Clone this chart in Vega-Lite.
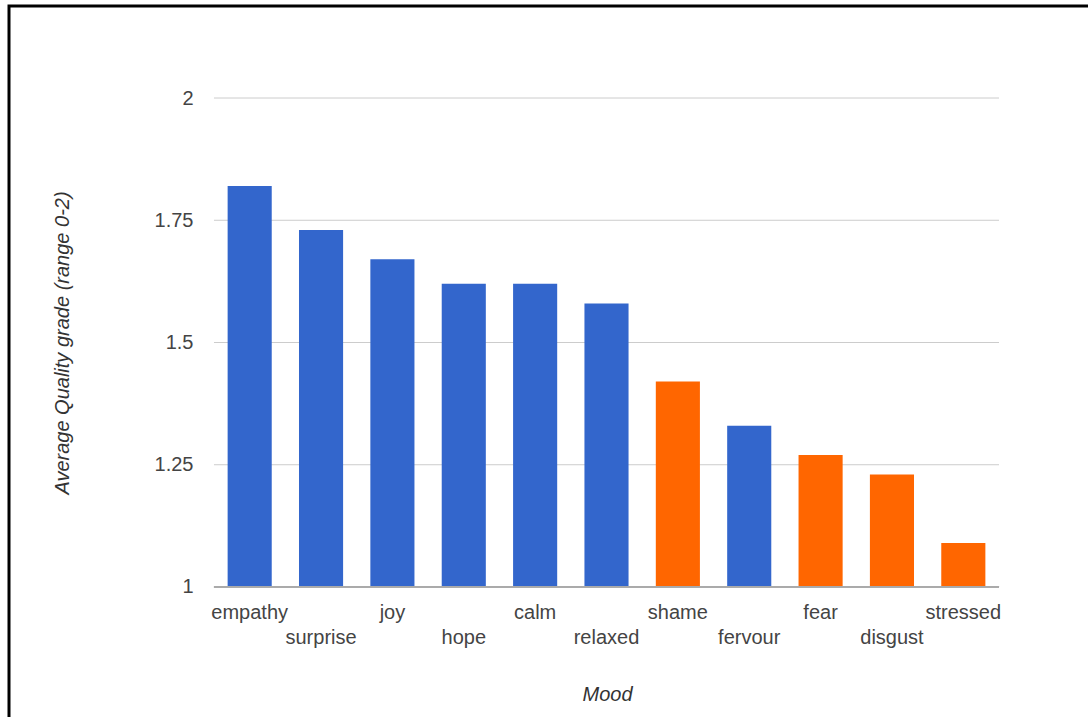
{
  "$schema": "https://vega.github.io/schema/vega-lite/v6.json",
  "width": 1079,
  "height": 711,
  "autosize": {"type": "none"},
  "padding": {"left": 9, "top": 6, "right": 0, "bottom": 0},
  "background": "#ffffff",
  "view": {
    "fill": "#ffffff",
    "stroke": "#000000",
    "strokeWidth": 3,
    "strokeCap": "square",
    "strokeDash": [1079, 1790, 711, 0]
  },
  "config": {
    "font": "Liberation Sans",
    "axis": {
      "labelFont": "Liberation Sans",
      "titleFont": "Liberation Sans",
      "labelFontSize": 20,
      "titleFontSize": 20,
      "labelColor": "#444444",
      "titleColor": "#333333",
      "titleFontStyle": "italic",
      "titleFontWeight": "normal",
      "domain": false,
      "ticks": false,
      "tickSize": 0,
      "grid": false
    }
  },
  "data": {
    "values": [
      {"mood": "empathy", "grade": 1.82, "valence": "positive"},
      {"mood": "surprise", "grade": 1.73, "valence": "positive"},
      {"mood": "joy", "grade": 1.67, "valence": "positive"},
      {"mood": "hope", "grade": 1.62, "valence": "positive"},
      {"mood": "calm", "grade": 1.62, "valence": "positive"},
      {"mood": "relaxed", "grade": 1.58, "valence": "positive"},
      {"mood": "shame", "grade": 1.42, "valence": "negative"},
      {"mood": "fervour", "grade": 1.33, "valence": "positive"},
      {"mood": "fear", "grade": 1.27, "valence": "negative"},
      {"mood": "disgust", "grade": 1.23, "valence": "negative"},
      {"mood": "stressed", "grade": 1.09, "valence": "negative"}
    ]
  },
  "layer": [
    {
      "data": {"values": [{"level": 1.25}, {"level": 1.5}, {"level": 1.75}, {"level": 2}]},
      "mark": {"type": "rule", "color": "#cccccc", "strokeWidth": 1, "xOffset": -35.7, "x2Offset": 35.7},
      "encoding": {
        "y": {
          "field": "level",
          "type": "quantitative",
          "scale": {"domain": [0.73415, 2.18814], "nice": false, "zero": false},
          "axis": {
            "orient": "left",
            "offset": -184,
            "values": [1, 1.25, 1.5, 1.75, 2],
            "labelExpr": "'' + datum.value",
            "labelPadding": 0,
            "labelAlign": "right",
            "labelBaseline": "middle",
            "title": "Average Quality grade (range 0-2)",
            "titleAngle": -90,
            "titleX": -124.5,
            "titleY": 336.5,
            "titleAlign": "center",
            "titleBaseline": "alphabetic"
          }
        },
        "x": {"datum": "empathy", "type": "nominal"},
        "x2": {"datum": "stressed"}
      }
    },
    {
      "mark": {"type": "bar"},
      "encoding": {
        "x": {
          "field": "mood",
          "type": "nominal",
          "sort": null,
          "scale": {
            "domain": ["empathy", "surprise", "joy", "hope", "calm", "relaxed", "shame", "fervour", "fear", "disgust", "stressed"],
            "range": [205, 990],
            "paddingInner": 0.382,
            "paddingOuter": 0.191
          },
          "axis": {
            "orient": "bottom",
            "offset": -130,
            "labelAngle": 0,
            "labelBaseline": "alphabetic",
            "labelAlign": "center",
            "labelPadding": {
              "condition": {"test": "indexof(['surprise','hope','relaxed','fervour','disgust'], datum.value) >= 0", "value": 56},
              "value": 31
            },
            "title": "Mood",
            "titleX": 598,
            "titleY": 113,
            "titleAlign": "center",
            "titleBaseline": "alphabetic"
          }
        },
        "y": {
          "field": "grade",
          "type": "quantitative",
          "scale": {"domain": [0.73415, 2.18814], "nice": false, "zero": false},
          "axis": {
            "orient": "left",
            "offset": -184,
            "values": [1, 1.25, 1.5, 1.75, 2],
            "labelExpr": "'' + datum.value",
            "labelPadding": 0,
            "labelAlign": "right",
            "labelBaseline": "middle",
            "title": "Average Quality grade (range 0-2)",
            "titleAngle": -90,
            "titleX": -124.5,
            "titleY": 336.5,
            "titleAlign": "center",
            "titleBaseline": "alphabetic"
          }
        },
        "y2": {"datum": 1},
        "color": {
          "field": "valence",
          "type": "nominal",
          "scale": {"domain": ["positive", "negative"], "range": ["#3366cc", "#ff6600"]},
          "legend": null
        }
      }
    },
    {
      "mark": {"type": "rule", "color": "#aaaaaa", "strokeWidth": 1, "xOffset": -35.7, "x2Offset": 35.7},
      "encoding": {
        "y": {"datum": 1},
        "x": {"datum": "empathy", "type": "nominal"},
        "x2": {"datum": "stressed"}
      }
    }
  ]
}
